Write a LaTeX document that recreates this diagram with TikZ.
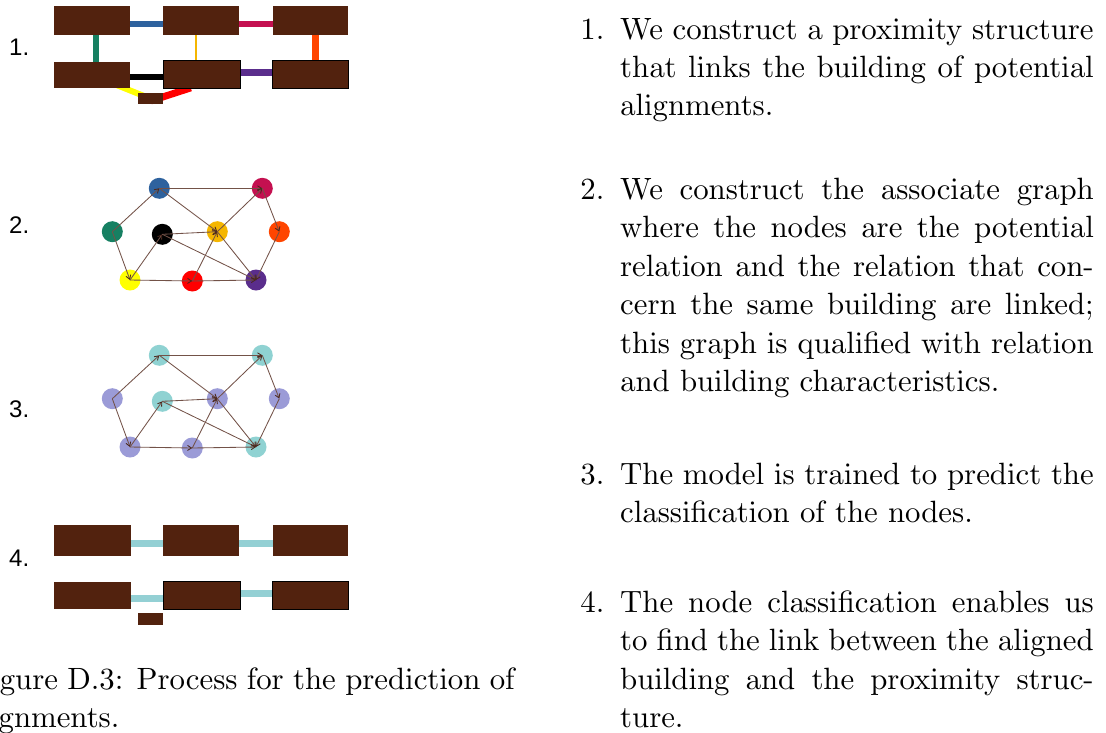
\documentclass[tikz,border=0pt]{standalone}
\usepackage{fontspec}
\newfontfamily\labfont{Liberation Sans}
\usetikzlibrary{arrows.meta}
\font\cmbig=cmr10 at 30.8pt
\pgfdeclarelayer{background}
\pgfsetlayers{background,main}
\definecolor{bld}{RGB}{82,34,14}
\definecolor{cblue}{RGB}{46,98,158}
\definecolor{ccrim}{RGB}{196,16,80}
\definecolor{cgreen}{RGB}{22,128,98}
\definecolor{cgold}{RGB}{245,182,0}
\definecolor{corng}{RGB}{255,69,0}
\definecolor{cyel}{RGB}{255,255,0}
\definecolor{cred}{RGB}{255,0,0}
\definecolor{cpurp}{RGB}{90,45,140}
\definecolor{cteal}{RGB}{143,210,210}
\definecolor{clav}{RGB}{155,155,215}
\definecolor{clink}{RGB}{148,208,212}
\definecolor{cedge}{RGB}{115,82,72}
\definecolor{ctip}{RGB}{75,40,30}
\newcommand\jl[1]{\makebox[474pt][s]{#1}}
\begin{document}
\begin{tikzpicture}[x=1pt,y=-1pt,
  bldg/.style={rectangle, fill=bld, inner sep=0pt, anchor=north west},
  bldo/.style={bldg, draw=black, line width=0.8pt},
  lk/.style={line width=6pt, shorten <=-2pt, shorten >=-2pt},
  gn/.style={circle, inner sep=0pt, minimum size=21pt},
  ge/.style={draw=cedge, line width=0.85pt, -{Straight Barb[length=4pt,width=5pt,color=ctip]}},
  txt/.style={anchor=base west, inner sep=0pt, font=\cmbig},
  num/.style={anchor=base east, inner sep=0pt, font=\cmbig},
  lab/.style={anchor=base west, inner sep=0pt, font=\labfont\fontsize{24}{28}\selectfont}]
\useasboundingbox (0,0) rectangle (1106,732);
\clip (0,0) rectangle (1106,732);

% ---- step labels
\node[lab] (s1) at (9,55) {1.};
\node[lab] (s2) at (9,233) {2.};
\node[lab] (s3) at (9,417) {3.};
\node[lab] (s4) at (9,566) {4.};

% ---- panel 1 buildings
\node[bldg, minimum width=76pt, minimum height=29pt] (A1) at (54,6) {};
\node[bldg, minimum width=76pt, minimum height=29pt] (B1) at (163,6) {};
\node[bldg, minimum width=75pt, minimum height=29pt] (C1) at (273,6) {};
\node[bldg, minimum width=76pt, minimum height=26pt] (D1) at (54,62) {};
\node[bldo, minimum width=77pt, minimum height=28pt] (E1) at (163,60) {};
\node[bldo, minimum width=76pt, minimum height=28pt] (F1) at (272,60) {};
\node[bldg, minimum width=25pt, minimum height=11pt] (G1) at (138,93) {};
\begin{pgfonlayer}{background}
\draw[lk, draw=cblue, line width=6.5pt] (A1.east |- 0,24) -- (B1.west |- 0,24);
\draw[lk, draw=ccrim] (B1.east |- 0,24) -- (C1.west |- 0,24);
\draw[lk, draw=cgreen] (A1.south -| 96.3,0) -- (D1.north -| 96.3,0);
\draw[lk, draw=cgold, line width=2.5pt] (B1.south -| 196,0) -- (E1.north -| 196,0);
\draw[lk, draw=corng, line width=6.5pt] (C1.south -| 315.5,0) -- (F1.north -| 315.5,0);
\draw[lk, draw=black] (D1.east |- 0,77) -- (E1.west |- 0,77);
\draw[lk, draw=cpurp, line width=7pt] (E1.east |- 0,72.5) -- (F1.west |- 0,72.5);
\draw[line width=6pt, draw=cyel] (D1.center) -- (G1.center);
\draw[line width=7pt, draw=cred, shorten >=-3pt] ([yshift=3.5pt]G1.south) -- ([xshift=-14pt]E1.south);
\end{pgfonlayer}

% ---- panel 2 graph
\node[gn, fill=cblue]  (b2) at (159.3,188.3) {};
\node[gn, fill=ccrim]  (c2) at (262.3,188.3) {};
\node[gn, fill=cgreen] (g2) at (112.3,231.7) {};
\node[gn, fill=black]  (k2) at (162.3,234.3) {};
\node[gn, fill=cgold]  (o2) at (217.3,231.7) {};
\node[gn, fill=corng]  (r2) at (279.3,231.7) {};
\node[gn, fill=cyel]   (y2) at (130,280) {};
\node[gn, fill=cred]   (d2) at (192.3,281) {};
\node[gn, fill=cpurp]  (p2) at (256,280) {};
\draw[ge] (b2.center) -- (c2.center);
\draw[ge] (g2.center) -- (b2.center);
\draw[ge] (b2.center) -- (o2.center);
\draw[ge] (o2.center) -- (c2.center);
\draw[ge] (c2.center) -- (r2.center);
\draw[ge] (r2.center) -- (p2.center);
\draw[ge] (g2.center) -- (y2.center);
\draw[ge] (y2.center) -- (k2.center);
\draw[ge] (k2.center) -- (o2.center);
\draw[ge] (k2.center) -- (p2.center);
\draw[ge] (d2.center) -- (o2.center);
\draw[ge] (o2.center) -- (p2.center);
\draw[ge] (y2.center) -- (d2.center);
\draw[ge] (d2.center) -- (p2.center);

% ---- panel 3 graph
\node[gn, fill=cteal] (b3) at (159.3,355.3) {};
\node[gn, fill=cteal] (c3) at (262.3,355.3) {};
\node[gn, fill=clav]  (g3) at (112.3,398.7) {};
\node[gn, fill=cteal] (k3) at (162.3,401.3) {};
\node[gn, fill=clav]  (o3) at (217.3,398.7) {};
\node[gn, fill=clav]  (r3) at (279.3,398.7) {};
\node[gn, fill=clav]  (y3) at (130,447) {};
\node[gn, fill=clav]  (d3) at (192.3,448) {};
\node[gn, fill=cteal] (p3) at (256,447) {};
\draw[ge] (b3.center) -- (c3.center);
\draw[ge] (g3.center) -- (b3.center);
\draw[ge] (b3.center) -- (o3.center);
\draw[ge] (o3.center) -- (c3.center);
\draw[ge] (c3.center) -- (r3.center);
\draw[ge] (r3.center) -- (p3.center);
\draw[ge] (g3.center) -- (y3.center);
\draw[ge] (y3.center) -- (k3.center);
\draw[ge] (k3.center) -- (o3.center);
\draw[ge] (k3.center) -- (p3.center);
\draw[ge] (d3.center) -- (o3.center);
\draw[ge] (o3.center) -- (p3.center);
\draw[ge] (y3.center) -- (d3.center);
\draw[ge] (d3.center) -- (p3.center);

% ---- panel 4 buildings
\node[bldg, minimum width=77pt, minimum height=31pt] (A4) at (54,525) {};
\node[bldg, minimum width=76pt, minimum height=31pt] (B4) at (163,525) {};
\node[bldg, minimum width=75pt, minimum height=31pt] (C4) at (273,525) {};
\node[bldg, minimum width=77pt, minimum height=27pt] (D4) at (54,582) {};
\node[bldo, minimum width=77pt, minimum height=28pt] (E4) at (163,581) {};
\node[bldo, minimum width=76pt, minimum height=28pt] (F4) at (272,581) {};
\node[bldg, minimum width=25pt, minimum height=12pt] (G4) at (138,613) {};
\begin{pgfonlayer}{background}
\draw[lk, draw=clink, line width=7pt] (A4.east |- 0,543) -- (B4.west |- 0,543);
\draw[lk, draw=clink, line width=7pt] (B4.east |- 0,543) -- (C4.west |- 0,543);
\draw[lk, draw=clink, line width=7pt] (D4.east |- 0,598) -- (E4.west |- 0,598);
\draw[lk, draw=clink, line width=7pt] (E4.east |- 0,593) -- (F4.west |- 0,593);
\end{pgfonlayer}

% ---- caption
\node[txt] (cap1) at (-29,689.3) {\makebox[544pt][s]{Figure D.3: Process for the prediction of}};
\node[txt] (cap2) at (-34,727.7) {alignments.};

% ---- right column
\node[num] (i1) at (604.6,39) {1.};
\node[txt] (t11) at (620,39) {\jl{We construct a proximity structure}};
\node[txt] (t12) at (620,77.4) {\jl{that links the building of potential}};
\node[txt] (t13) at (620,115.8) {alignments.};

\node[num] (i2) at (604.6,199.5) {2.};
\node[txt] (t21) at (620,199.5) {\jl{We construct the associate graph}};
\node[txt] (t22) at (620,237.9) {\jl{where the nodes are the potential}};
\node[txt] (t23) at (620,276.3) {\jl{relation and the relation that con-}};
\node[txt] (t24) at (620,314.7) {\jl{cern the same building are linked;}};
\node[txt] (t25) at (620,353.1) {\jl{this graph is qualified with relation}};
\node[txt] (t26) at (620,391.5) {and building characteristics.};

\node[num] (i3) at (604.6,484.5) {3.};
\node[txt] (t31) at (620,484.5) {\jl{The model is trained to predict the}};
\node[txt] (t32) at (620,522.9) {classification of the nodes.};

\node[num] (i4) at (604.6,612.5) {4.};
\node[txt] (t41) at (620,612.5) {\jl{The node classification enables us}};
\node[txt] (t42) at (620,650.9) {\jl{to find the link between the aligned}};
\node[txt] (t43) at (620,689.3) {\jl{building and the proximity struc-}};
\node[txt] (t44) at (620,727.7) {ture.};
\end{tikzpicture}
\end{document}
